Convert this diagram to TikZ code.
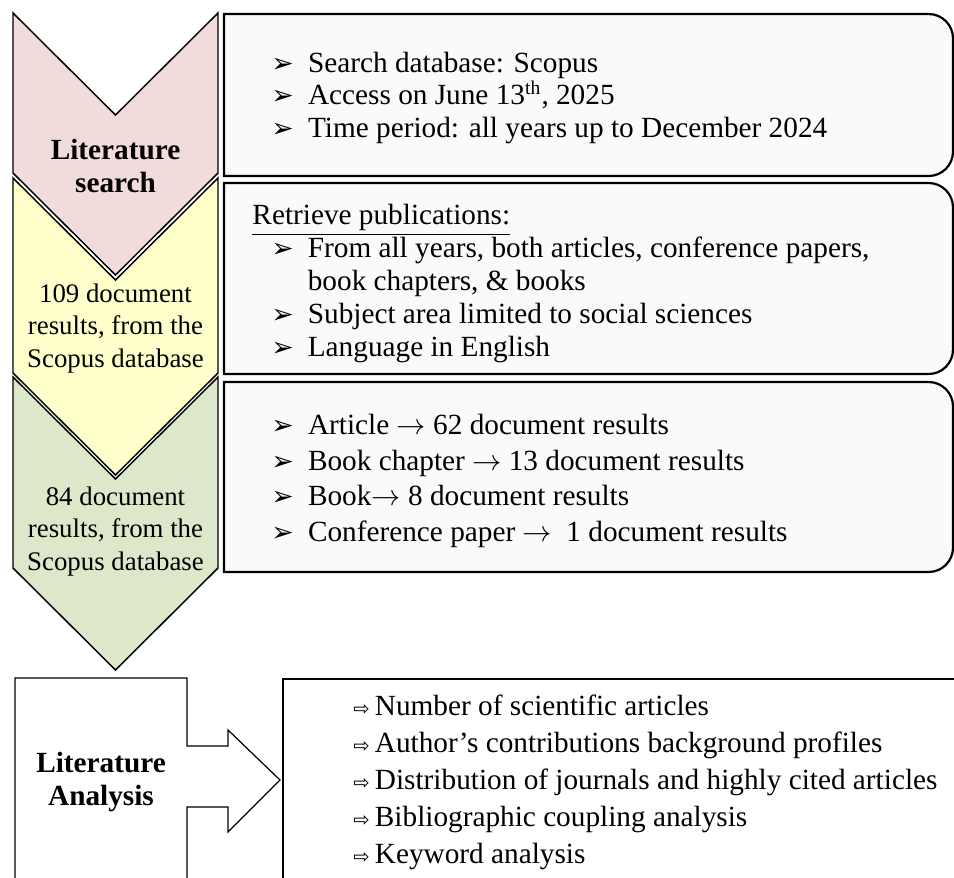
\documentclass[tikz,border=0pt]{standalone}
\usepackage{fontspec}
\setmainfont{Liberation Serif}
\newfontfamily\symfont{DejaVu Sans}
\usepackage{tikz}

\definecolor{searchpink}{HTML}{F2DCDB}
\definecolor{resultyellow}{HTML}{FFFFCC}
\definecolor{resultgreen}{HTML}{DDE8CB}
\definecolor{panelgray}{HTML}{FAFAFA}

\newcommand{\filledtip}{\makebox[15pt][l]{\symfont\fontsize{11}{11}\selectfont ➢}}
\newcommand{\hollowtip}{\makebox[8.8pt][l]{\symfont\fontsize{8}{8}\selectfont ⇨}}

\tikzset{
  chevron/.style={draw=black, line width=0.6pt, line join=miter},
  panel/.style={draw=black, line width=0.9pt, fill=panelgray},
  outline/.style={draw=black, line width=0.5pt, fill=white},
  steplabel/.style={align=center, font=\fontsize{11}{13.5}\selectfont},
  stepname/.style={align=center, font=\fontsize{12}{13.5}\selectfont\bfseries},
  criteria/.style={anchor=west, align=left, inner sep=0pt, font=\fontsize{12}{13.5}\selectfont},
}

\begin{document}
\begin{tikzpicture}[x=0.41pt, y=-0.41pt]
\useasboundingbox (0,0) rectangle (954,877);
\clip (0,0) rectangle (954,877);

\foreach \ya/\yb/\col in {13/173/searchpink, 178/373/resultyellow, 377/568/resultgreen}
  \draw[chevron, fill=\col] (13,\ya) -- (115.5,\ya+102) -- (218,\ya) -- (218,\yb) -- (115.5,\yb+102) -- (13,\yb) -- cycle;

\draw[panel] (224,14) [rounded corners=10pt] -- (953,14) -- (953,176) [sharp corners] -- (224,176) -- cycle;
\draw[panel] (224,183) [rounded corners=10pt] -- (953,183) -- (953,374) [sharp corners] -- (224,374) -- cycle;
\draw[panel] (224,382) [rounded corners=10pt] -- (953,382) -- (953,572) [sharp corners] -- (224,572) -- cycle;

\node[stepname] (search) at (115.5,166) {Literature\\search};
\node[steplabel] (found) at (115.5,328.5) {109 document\\results, from the\\Scopus database};
\node[steplabel] (kept) at (115.5,531.5) {84 document\\results, from the\\Scopus database};

\node[criteria] (scope) at (271,98)
  {\filledtip Search database: Scopus\\
   \filledtip Access on June 13\textsuperscript{th}, 2025\\
   \filledtip Time period: all years up to December 2024};
\node[criteria] (retrieve) at (252,283.5)
  {\underline{Retrieve publications:}\\
   \hspace*{7.7pt}\filledtip From all years, both articles, conference papers,\\
   \hspace*{22.7pt}book chapters, \& books\\
   \hspace*{7.7pt}\filledtip Subject area limited to social sciences\\
   \hspace*{7.7pt}\filledtip Language in English};
\node[criteria, font=\fontsize{12}{14.6}\selectfont] (types) at (271,481)
  {\filledtip Article $\rightarrow$ 62 document results\\
   \filledtip Book chapter $\rightarrow$ 13 document results\\
   \filledtip Book$\rightarrow$ 8 document results\\
   \filledtip Conference paper $\rightarrow$\ \ 1 document results};

\draw[outline] (15,900) -- (15,678) -- (187,678) -- (187,746) -- (228,746) -- (228,730)
  -- (280,780) -- (228,832) -- (228,807) -- (187,807) -- (187,900);
\draw[outline] (283,679) rectangle (990,900);

\node[stepname] (analysis) at (101,782) {Literature\\Analysis};
\node[criteria, font=\fontsize{12}{15.2}\selectfont] (outputs) at (353,782.5)
  {\hollowtip Number of scientific articles\\
   \hollowtip Author’s contributions background profiles\\
   \hollowtip Distribution of journals and highly cited articles\\
   \hollowtip Bibliographic coupling analysis\\
   \hollowtip Keyword analysis};
\end{tikzpicture}
\end{document}
